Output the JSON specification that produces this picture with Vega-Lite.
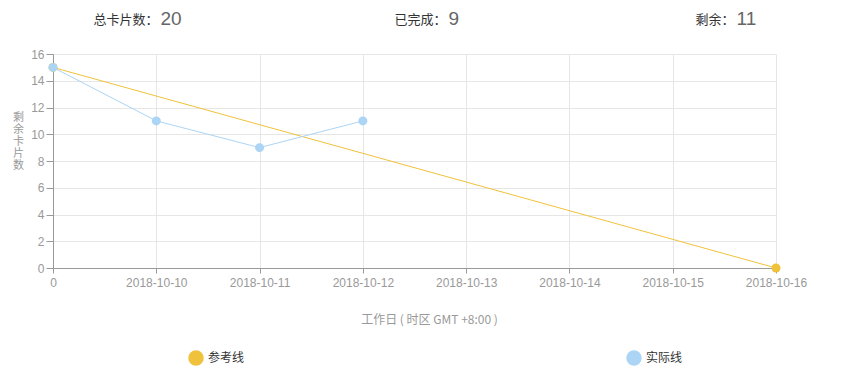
{
  "$schema": "https://vega.github.io/schema/vega-lite/v6.json",
  "width": 723,
  "height": 214,
  "autosize": "none",
  "padding": {"left": 53, "top": 54, "right": 87, "bottom": 118},
  "background": "white",
  "config": {
    "view": {"stroke": null},
    "font": "Liberation Sans"
  },
  "datasets": {
    "series": [
      {"day": "0", "remain": 15, "series": "参考线"},
      {"day": "2018-10-16", "remain": 0, "series": "参考线"},
      {"day": "0", "remain": 15, "series": "实际线"},
      {"day": "2018-10-10", "remain": 11, "series": "实际线"},
      {"day": "2018-10-11", "remain": 9, "series": "实际线"},
      {"day": "2018-10-12", "remain": 11, "series": "实际线"}
    ],
    "header": [
      {"label": "总卡片数：", "value": "20"},
      {"label": "已完成：", "value": "9"},
      {"label": "剩余：", "value": "11"}
    ]
  },
  "layer": [
    {
      "data": {"name": "series"},
      "encoding": {
        "x": {
          "field": "day",
          "type": "ordinal",
          "scale": {
            "type": "point",
            "padding": 0,
            "domain": ["0", "2018-10-10", "2018-10-11", "2018-10-12", "2018-10-13", "2018-10-14", "2018-10-15", "2018-10-16"]
          },
          "axis": {
            "title": "工作日 ( 时区 GMT +8:00 )",
            "labelAngle": 0,
            "labelColor": "#999999",
            "labelFontSize": 12,
            "labelPadding": 4,
            "tickSize": 5,
            "tickColor": "#999999",
            "domainColor": "#999999",
            "grid": true,
            "gridColor": "#e6e6e6",
            "titleColor": "#999999",
            "titleFontSize": 12,
            "titleFontWeight": "normal",
            "titleFont": "Noto Sans CJK SC",
            "titlePadding": 26,
            "titleX": 376,
            "titleAlign": "center"
          }
        },
        "y": {
          "field": "remain",
          "type": "quantitative",
          "scale": {"domain": [0, 16], "nice": false},
          "axis": {
            "values": [0, 2, 4, 6, 8, 10, 12, 14, 16],
            "title": ["剩", "余", "卡", "片", "数"],
            "titleAngle": 0.01,
            "titleX": -35,
            "titleY": 64,
            "titleAlign": "center",
            "titleBaseline": "middle",
            "titleLineHeight": 12,
            "titleColor": "#999999",
            "titleFontSize": 11,
            "titleFontWeight": "normal",
            "titleFont": "Noto Sans CJK SC",
            "labelColor": "#999999",
            "labelFontSize": 12,
            "labelPadding": 2,
            "tickSize": 7,
            "tickColor": "#999999",
            "domainColor": "#999999",
            "grid": true,
            "gridColor": "#e6e6e6",
            "encode": {"title": {"update": {"angle": {"value": 0}}}}
          }
        },
        "color": {
          "field": "series",
          "type": "nominal",
          "scale": {"domain": ["参考线", "实际线"], "range": ["#f0c23b", "#acd5f5"]},
          "legend": {
            "orient": "none",
            "legendX": 135,
            "legendY": 296,
            "direction": "horizontal",
            "title": null,
            "symbolType": "circle",
            "symbolSize": 196,
            "labelFontSize": 12,
            "labelColor": "#333333",
            "labelFont": "Noto Sans CJK SC",
            "labelOffset": 4,
            "columnPadding": 379
          }
        }
      },
      "layer": [
        {"mark": {"type": "line", "strokeWidth": 1}},
        {"mark": {"type": "point", "filled": true, "shape": "circle", "size": 81, "opacity": 1}}
      ]
    },
    {
      "data": {"name": "header"},
      "encoding": {
        "x": {
          "field": "label",
          "type": "nominal",
          "sort": null,
          "scale": {"type": "point", "padding": 0.255},
          "axis": null
        }
      },
      "layer": [
        {
          "mark": {"type": "text", "align": "right", "baseline": "alphabetic", "y": -30, "dx": 32, "fontSize": 13, "color": "#333333", "font": "Noto Sans CJK SC"},
          "encoding": {"text": {"field": "label"}}
        },
        {
          "mark": {"type": "text", "align": "left", "baseline": "alphabetic", "y": -29, "dx": 34, "fontSize": 19, "color": "#666666"},
          "encoding": {"text": {"field": "value"}}
        }
      ]
    }
  ],
  "resolve": {"scale": {"x": "independent"}, "axis": {"x": "independent"}}
}
